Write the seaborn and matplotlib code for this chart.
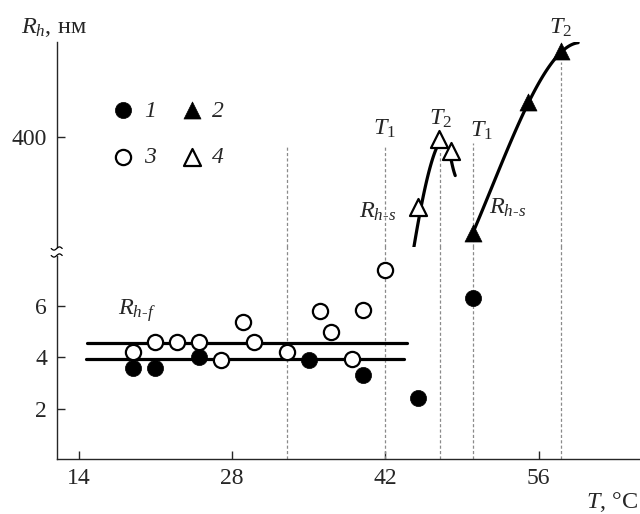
import numpy as np
import matplotlib
matplotlib.use("Agg")
import matplotlib.pyplot as plt
from matplotlib.lines import Line2D
import seaborn as sns

sns.set_style("ticks")
plt.rcParams["font.family"] = ["Liberation Serif", "DejaVu Serif"]
plt.rcParams["mathtext.fontset"] = "custom"
plt.rcParams["mathtext.rm"] = "Liberation Serif"
plt.rcParams["mathtext.it"] = "Liberation Serif:italic"
plt.rcParams["mathtext.bf"] = "Liberation Serif:bold"

# ---- data -------------------------------------------------------------
# 1: filled circles (fast mode, nm, lower scale)
temp_1 = [19, 21, 25, 35, 40, 45, 50]
rh_1 = [3.59, 3.59, 4.02, 3.90, 3.32, 2.43, 6.30]
# 3: open circles (fast mode, nm, lower scale)
temp_3 = [19, 21, 23, 25, 27, 29, 30, 33, 36, 37, 39, 40, 42]
rh_3 = [4.21, 4.60, 4.60, 4.60, 3.90, 5.37, 4.60, 4.21, 5.80, 4.99, 3.94, 5.84, 7.39]
# 2: filled triangles (slow mode, nm, upper scale)
temp_2 = [50, 55, 58]
rh_2 = [209, 470, 572]
# 4: open triangles (slow mode, nm, upper scale)
temp_4 = [45, 46.9, 48]
rh_4 = [261, 396, 373]

# mean fast-mode radius levels R_h-f
rhf_level = [4.56, 3.94]
rhf_from = [14.8, 14.7]
rhf_to = [44.0, 43.7]

# trend curves through the slow-mode points
fit4_t = [44.54, 45.27, 45.91, 46.73]
fit4_r = [171, 261, 325, 381]
fit4b_t = [47.92, 48.1, 48.38]
fit4b_r = [365, 345, 323]
fit2_t = [50.0, 55.0, 57.95, 59.6]
fit2_r = [209, 466, 568, 589]

# transition temperatures and heights of the guide lines on the upper scale
guide_t = [33, 42, 47, 50, 58]
guide_top = [384, 384, 374, 389, 550]

x_ticks = [14, 28, 42, 56]
y_ticks_low = [2, 4, 6]
y_ticks_high = [400]

# ---- figure -------------------------------------------------------------
W, H = 640, 514
fig = plt.figure(figsize=(W / 100, H / 100), dpi=100)


def box(l, t, r, b):
    return [l / W, 1 - b / H, (r - l) / W, (b - t) / H]


axl = fig.add_axes(box(56.7, 256, 639.5, 459.3))
axu = fig.add_axes(box(56.7, 41.7, 639.5, 247), sharex=axl)

axl.set_xlim(12.0, 65.2)
axl.set_ylim(0.05, 7.93)
axu.set_ylim(180, 591)

for ax in (axl, axu):
    ax.spines["top"].set_visible(False)
    ax.spines["right"].set_visible(False)
    ax.spines["left"].set_linewidth(1.0)
    ax.spines["bottom"].set_linewidth(1.0)
    ax.set_facecolor("none")
axu.spines["bottom"].set_visible(False)
axu.tick_params(axis="x", which="both", bottom=False, labelbottom=False)

axl.set_xticks(x_ticks)
axl.set_yticks(y_ticks_low)
axu.set_yticks(y_ticks_high)
axl.tick_params(axis="x", direction="in", length=6, width=1, labelsize=17, pad=6)
for ax in (axl, axu):
    ax.tick_params(axis="y", direction="in", length=6, width=1, labelsize=17, pad=7)

# guide lines at the transition temperatures
dash = dict(color="#8a8a8a", lw=0.9, ls=(0, (2.5, 1.8)))
for t, top in zip(guide_t, guide_top):
    axl.axvline(t, ymin=0, ymax=1.05, clip_on=False, zorder=1, **dash)
    axu.plot([t, t], [180, top], zorder=1, **dash)

# R_h-f levels
for lev, a, b in zip(rhf_level, rhf_from, rhf_to):
    sns.lineplot(x=[a, b], y=[lev, lev], ax=axl, color="black", lw=2.3, zorder=2)


def trend(ax, kt, kr):
    deg = len(kt) - 1
    coef = np.polyfit(kt, kr, deg)
    grid = np.linspace(min(kt), max(kt), 120)
    sns.lineplot(x=grid, y=np.polyval(coef, grid), ax=ax, color="black",
                 lw=2.3, zorder=2, sort=False)


trend(axu, fit4_t, fit4_r)
trend(axu, fit4b_t, fit4b_r)
trend(axu, fit2_t, fit2_r)

# markers
sns.scatterplot(x=temp_1, y=rh_1, ax=axl, marker="o", s=135, color="black",
                edgecolor="black", linewidth=0.5, zorder=4, label="1")
sns.scatterplot(x=temp_3, y=rh_3, ax=axl, marker="o", s=120, color="white",
                edgecolor="black", linewidth=1.6, zorder=4, label="3")
sns.scatterplot(x=temp_2, y=rh_2, ax=axu, marker="^", s=150, color="black",
                edgecolor="black", linewidth=0.5, zorder=4, label="2")
sns.scatterplot(x=temp_4, y=rh_4, ax=axu, marker="^", s=150, color="white",
                edgecolor="black", linewidth=1.6, zorder=4, label="4")
for ax in (axl, axu):
    ax.set_xlabel("")
    ax.set_ylabel("")

hl, ll = axl.get_legend_handles_labels()
hu, lu = axu.get_legend_handles_labels()
for ax in (axl, axu):
    if ax.get_legend() is not None:
        ax.get_legend().remove()
lut = dict(zip(ll + lu, hl + hu))
order = ["1", "3", "2", "4"]
axu.legend([lut[k] for k in order], order, ncol=2, frameon=False,
           loc="upper left", bbox_to_anchor=(112 / W, 1 - 100 / H),
           bbox_transform=fig.transFigure, handlelength=0.95,
           handletextpad=0.4, columnspacing=1.05, labelspacing=1.05,
           borderpad=0, borderaxespad=0,
           prop={"style": "italic", "size": 17}, scatterpoints=1)

# annotations
fs = 17.5
axl.text(17.62, 5.64, r"$R_{h\text{-}f}$", fontsize=fs, va="baseline", ha="left")
axu.text(39.60, 238, r"$R_{h\text{-}s}$", fontsize=fs, va="baseline", ha="left")
axu.text(51.50, 246, r"$R_{h\text{-}s}$", fontsize=fs, va="baseline", ha="left")
axu.text(40.85, 404, r"$T_1$", fontsize=fs, va="baseline", ha="left")
axu.text(46.00, 424, r"$T_2$", fontsize=fs, va="baseline", ha="left")
axu.text(49.70, 401, r"$T_1$", fontsize=fs, va="baseline", ha="left")
axu.text(56.95, 608, r"$T_2$", fontsize=fs, va="baseline", ha="left", clip_on=False)

# axis titles
fig.text(21 / W, 1 - 33 / H, r"$R_h$, нм", fontsize=fs, va="baseline", ha="left")
fig.text(638 / W, 1 - 508 / H, r"$T$, °C", fontsize=fs, va="baseline", ha="right")

# axis break marks on the y axis
u = np.linspace(-1, 1, 30)
for yb in (248.5, 255.5):
    xs = (56.7 + 5.5 * u) / W
    ys = 1 - (yb - 1.6 * np.sin(np.pi * u)) / H
    fig.add_artist(Line2D(xs, ys, color="black", lw=0.9, transform=fig.transFigure))

fig.savefig("out.png", dpi=100)
